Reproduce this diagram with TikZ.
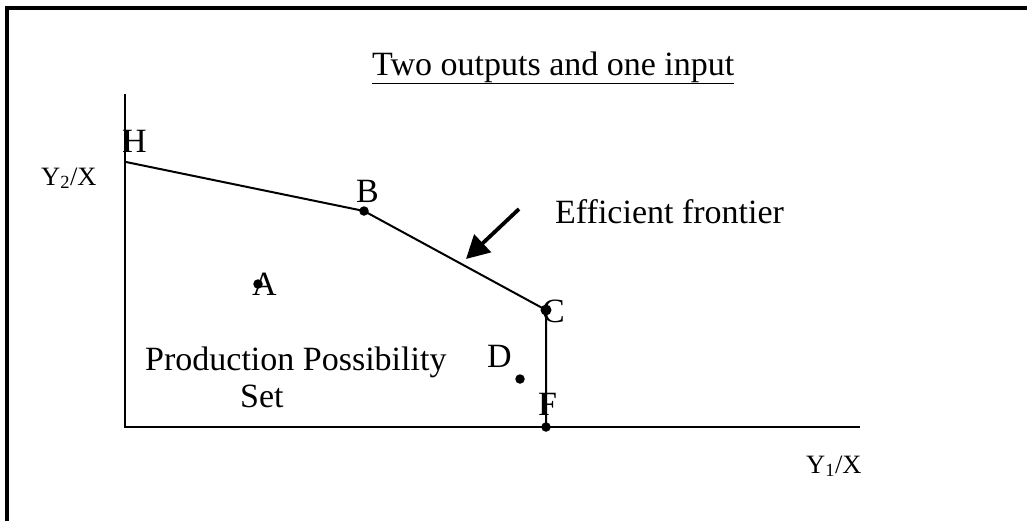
\documentclass[tikz,border=0pt]{standalone}
\usepackage{fontspec}
\setmainfont{Liberation Serif}
\usetikzlibrary{arrows.meta}
\begin{document}
\begin{tikzpicture}[x=1pt,y=-1pt,
  axis/.style={line width=2pt},
  edge/.style={line width=2pt},
  dot/.style={circle,fill=black,inner sep=0pt,minimum size=9.5pt},
  lbl/.style={anchor=base west,inner sep=0pt,font=\fontsize{34}{38}\selectfont},
  axlbl/.style={anchor=base west,inner sep=0pt,font=\fontsize{26.5}{30}\selectfont},
  pointer/.style={line width=3.8pt,-{Triangle[length=23pt,width=24pt]}}]
\useasboundingbox (0,0) rectangle (1027,520);
\fill[white] (0,0) rectangle (1027,520);
% frame (clipped at right and bottom)
\draw[line width=3.2pt] (7,522) -- (7,8) -- (1030,8);
% axes
\coordinate (O) at (125,427);
\coordinate (Ytop) at (125,94);
\coordinate (Xend) at (860,427);
\draw[axis] (Ytop) -- (O) -- (Xend);
% points
\coordinate (H) at (126,162);
\node[dot] (B) at (364,211) {};
\node[dot, minimum size=11pt] (C) at (546,310) {};
\node[dot] (F) at (546,427) {};
\node[dot] (A) at (258,284) {};
\node[dot] (D) at (520,379) {};
\draw[edge] (H) -- (B.center) -- (C.center) -- (F.center);
% arrow
\coordinate (arrS) at (519,209);
\coordinate (arrE) at (466,259);
\draw[pointer] (arrS) -- (arrE);
% labels
\node[lbl] (title) at (372,75) {\underline{Two outputs and one input}};
\node[lbl] (Hl) at (122,152) {H};
\node[lbl] (Bl) at (356,202) {B};
\node[lbl] (Cl) at (542,322) {C};
\node[lbl] (Dl) at (487,367) {D};
\node[lbl] (Fl) at (538,415) {F};
\node[lbl] (Al) at (252,295) {A};
\node[lbl] (eff) at (555,223) {Efficient frontier};
\node[lbl] (pps) at (145,370) {Production Possibility};
\node[lbl] (set) at (240,407) {Set};
\node[axlbl] (y2) at (41,185) {Y\textsubscript{2}/X};
\node[axlbl] (y1) at (806,473) {Y\textsubscript{1}/X};
\end{tikzpicture}
\end{document}
